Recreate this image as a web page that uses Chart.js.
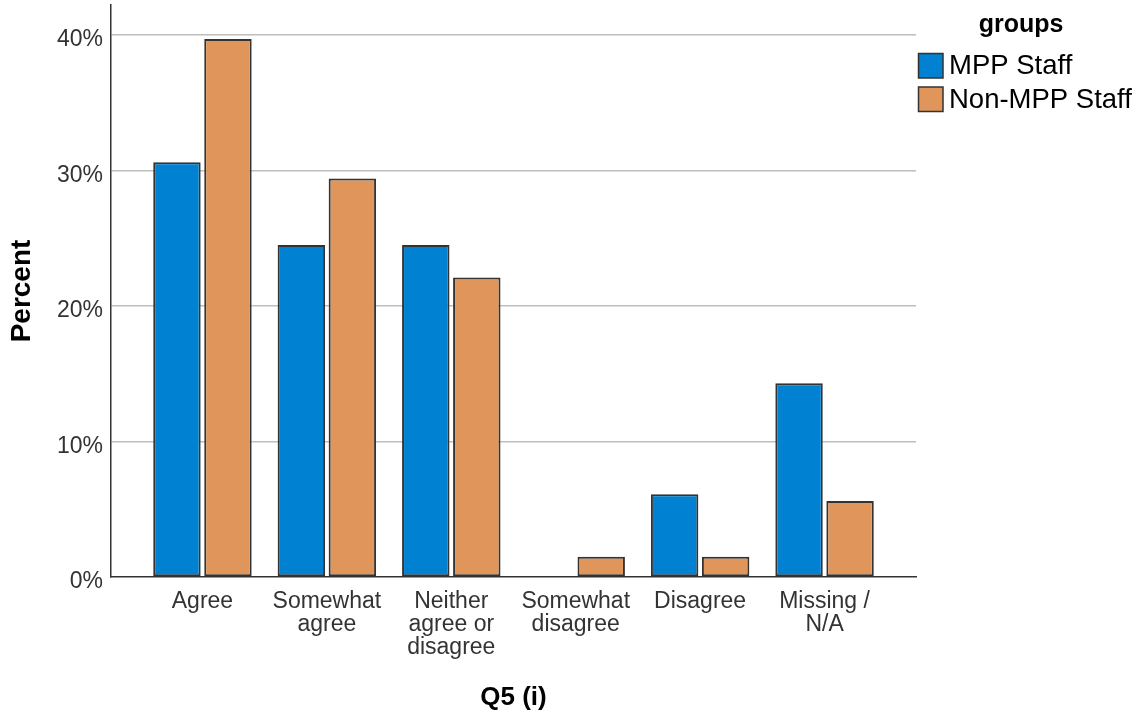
<!DOCTYPE html>
<html>
<head>
<meta charset="utf-8">
<script src="https://cdn.jsdelivr.net/npm/chart.js@4/dist/chart.umd.min.js"></script>
<style>
html,body{margin:0;padding:0;background:#fff;}
#wrap{width:1141px;height:717px;}
</style>
</head>
<body>
<div id="wrap"><canvas id="c" width="1141" height="717"></canvas></div>
<script>
// ---- data ----
const categories = [["Agree"], ["Somewhat", "agree"], ["Neither", "agree or", "disagree"], ["Somewhat", "disagree"], ["Disagree"], ["Missing /", "N/A"]];
const seriesNames = ["MPP Staff", "Non-MPP Staff"];
const mppValues = [30.6, 24.5, 24.5, 0, 6.1, 14.3];
const nonMppValues = [39.7, 29.4, 22.1, 1.5, 1.5, 5.6];
const yTickValues = [0, 10, 20, 30, 40];
const xTitle = "Q5 (i)";
const yTitle = "Percent";
const legendTitle = "groups";

// ---- styles ----
const FONT = '"Liberation Sans", Arial, Helvetica, sans-serif';
const seriesColors = ["#0081D1", "#E0965A"];

const legendPlugin = {
  id: 'customLegend',
  afterDraw(chart) {
    const ctx = chart.ctx;
    ctx.save();
    ctx.fillStyle = '#000';
    ctx.font = 'bold 25px ' + FONT;
    ctx.textAlign = 'center';
    ctx.textBaseline = 'middle';
    ctx.fillText(legendTitle, 1021, 25);
    chart.data.datasets.forEach((ds, i) => {
      const y = 53.5 + i * 33.5;
      ctx.fillStyle = ds.backgroundColor;
      ctx.fillRect(918.5, y, 24.5, 24.5);
      ctx.strokeStyle = '#333';
      ctx.lineWidth = 1.5;
      ctx.strokeRect(918.5, y, 24.5, 24.5);
      ctx.fillStyle = '#000';
      ctx.font = '27.5px ' + FONT;
      ctx.textAlign = 'left';
      ctx.textBaseline = 'middle';
      ctx.fillText(ds.label, 949, y + 13);
    });
    ctx.restore();
  }
};

const datasets = [mppValues, nonMppValues].map((vals, s) => ({
  label: seriesNames[s],
  data: vals.map((v, i) => ({x: i, y: v})),
  backgroundColor: seriesColors[s],
  borderColor: '#333',
  borderWidth: 2,
  borderSkipped: false,
  categoryPercentage: 0.82,
  barPercentage: 0.93
}));

new Chart(document.getElementById('c'), {
  type: 'bar',
  data: {datasets},
  plugins: [legendPlugin],
  options: {
    responsive: false,
    animation: false,
    devicePixelRatio: 1,
    layout: {padding: {top: 5, right: 225, left: 0, bottom: 0}},
    plugins: {legend: {display: false}, tooltip: {enabled: false}},
    scales: {
      x: {
        type: 'linear',
        offset: false,
        min: -0.735,
        max: 5.735,
        afterFit: s => { s.height = 140; s.paddingLeft = 0; s.paddingRight = 0; },
        afterBuildTicks: s => { s.ticks = categories.map((c, i) => ({value: i})); },
        ticks: {
          callback: v => categories[v],
          font: {family: FONT, size: 23, lineHeight: 1.0},
          color: '#333',
          padding: 13,
          maxRotation: 0,
          autoSkip: false
        },
        grid: {display: false, drawTicks: false},
        border: {display: true, color: '#333', width: 1.5},
        title: {display: true, text: xTitle, font: {family: FONT, size: 26, weight: 'bold'}, color: '#000', padding: {top: 0, bottom: 4}}
      },
      y: {
        min: 0,
        max: 42.2,
        afterFit: s => { s.width = 111; s.paddingTop = 0; s.paddingBottom = 0; },
        afterBuildTicks: s => { s.ticks = yTickValues.map(v => ({value: v})); },
        ticks: {
          callback: v => v + '%',
          font: {family: FONT, size: 23},
          color: '#333',
          padding: 8,
          labelOffset: 5
        },
        grid: {
          color: c => (c.tick && c.tick.value === 0) ? 'rgba(0,0,0,0)' : '#BEBEBE',
          lineWidth: 1.5,
          drawTicks: false
        },
        border: {display: true, color: '#333', width: 1.5},
        title: {display: true, text: yTitle, font: {family: FONT, size: 28, weight: 'bold'}, color: '#000', padding: {top: 5, bottom: 0}}
      }
    }
  }
});
</script>
</body>
</html>
